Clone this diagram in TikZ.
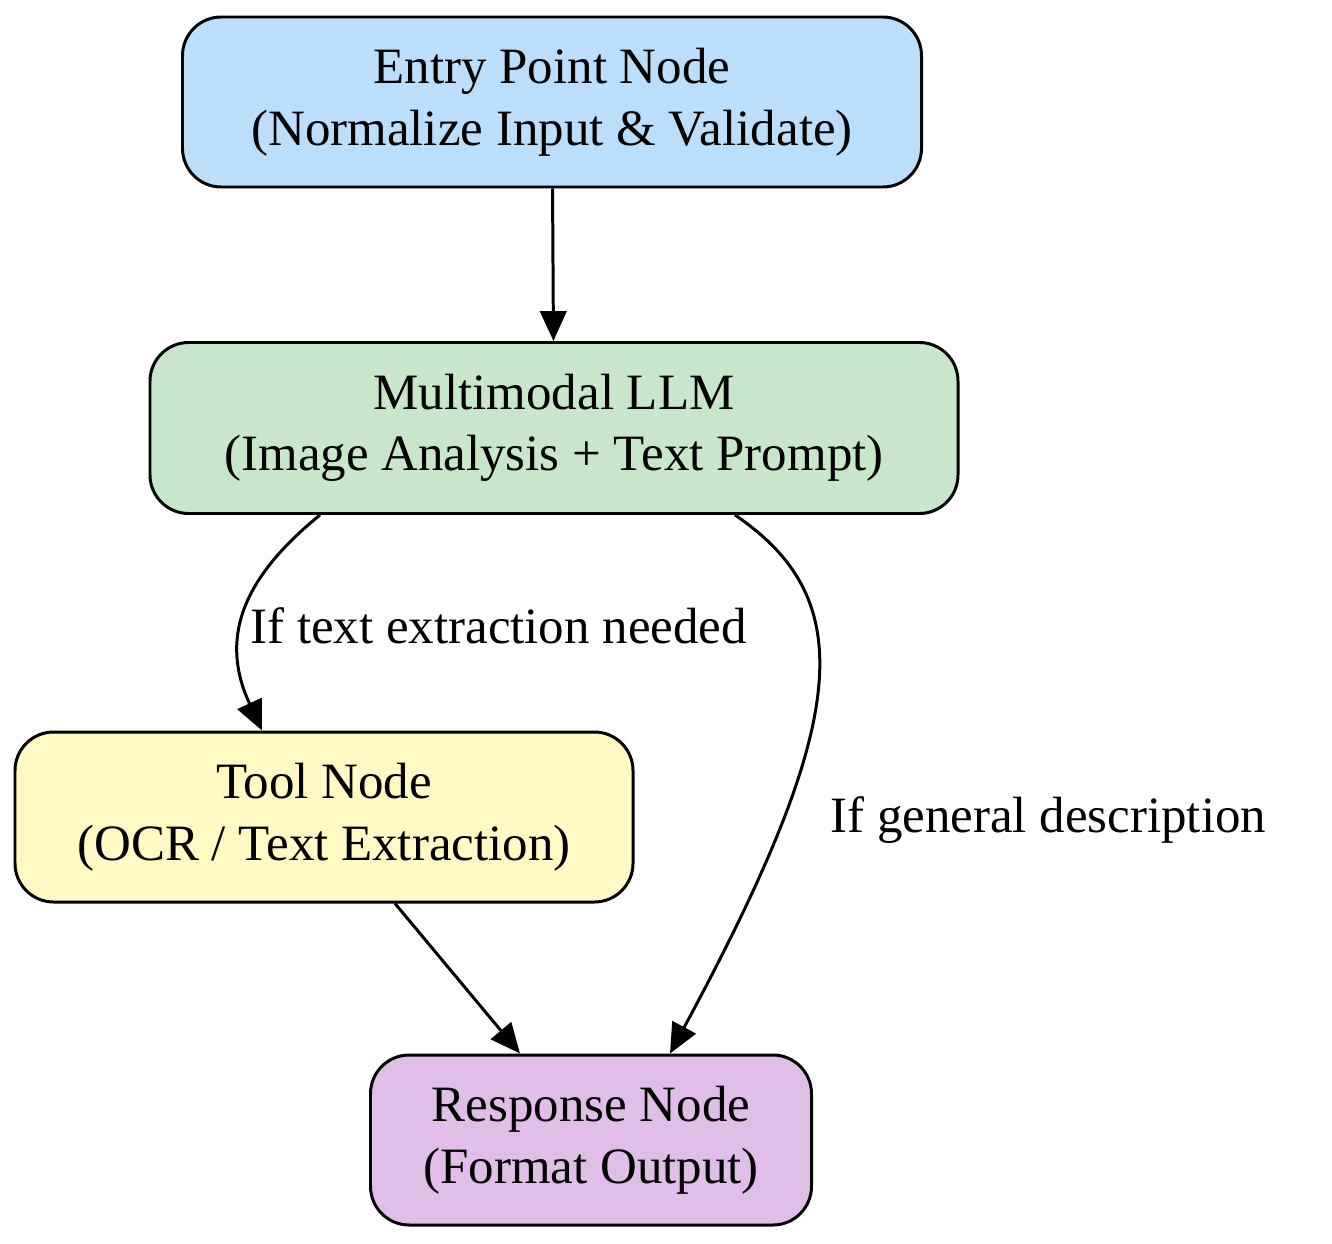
\documentclass[tikz,border=0pt]{standalone}
\usepackage{fontspec}
\setmainfont{Liberation Serif}
\usetikzlibrary{arrows.meta,positioning}
\definecolor{entrycol}{HTML}{BBDEFB}
\definecolor{llmcol}{HTML}{C8E6C9}
\definecolor{toolcol}{HTML}{FFF9C4}
\definecolor{respcol}{HTML}{E1BEE7}
\begin{document}
\begin{tikzpicture}[x=0.02cm,y=-0.02cm,line join=bevel,
    >={Triangle[length=17pt,width=15pt]},
    box/.style={draw,line width=1.7pt,rounded corners=22pt,align=center,
      inner sep=0pt,font=\fontsize{29}{35}\selectfont},
    edge/.style={->,line width=1.7pt},
    lbl/.style={font=\fontsize{29}{35}\selectfont,inner sep=0pt}]
  \useasboundingbox (0,0) rectangle (1332,1244);
  %%
    % Node: entry
  \node[box,fill=entrycol,minimum width=739*0.02cm,minimum height=170*0.02cm] (entry) at (552,102)
    {Entry Point Node\\(Normalize Input \& Validate)};
    % Node: llm
  \node[box,fill=llmcol,minimum width=808*0.02cm,minimum height=171*0.02cm] (llm) at (554,428)
    {Multimodal LLM\\(Image Analysis + Text Prompt)};
    % Node: tool
  \node[box,fill=toolcol,minimum width=618*0.02cm,minimum height=170*0.02cm] (tool) at (324,817)
    {Tool Node\\(OCR / Text Extraction)};
    % Node: response
  \node[box,fill=respcol,minimum width=441*0.02cm,minimum height=170*0.02cm] (resp) at (591,1140)
    {Response Node\\(Format Output)};
    % Edge: entry -> llm
    \draw[edge] (entry) -- (llm);
    % Edge: llm -> tool
    \draw[edge] (llm.south -| 320,0) .. controls (240,580) and (220,640) .. (tool.north -| 262,0);
    \node[lbl,anchor=west] (l1) at (250,626) {If text extraction needed};
    % Edge: llm -> response
    \draw[edge] (llm.south -| 735,0) .. controls (860,600) and (850,720) .. (resp.north -| 670,0);
    \node[lbl,anchor=west] (l2) at (830,820) {If general description};
    % Edge: tool -> response
    \draw[edge] (tool.south -| 395,0) -- (resp.north -| 520,0);
  %
\end{tikzpicture}
\end{document}
